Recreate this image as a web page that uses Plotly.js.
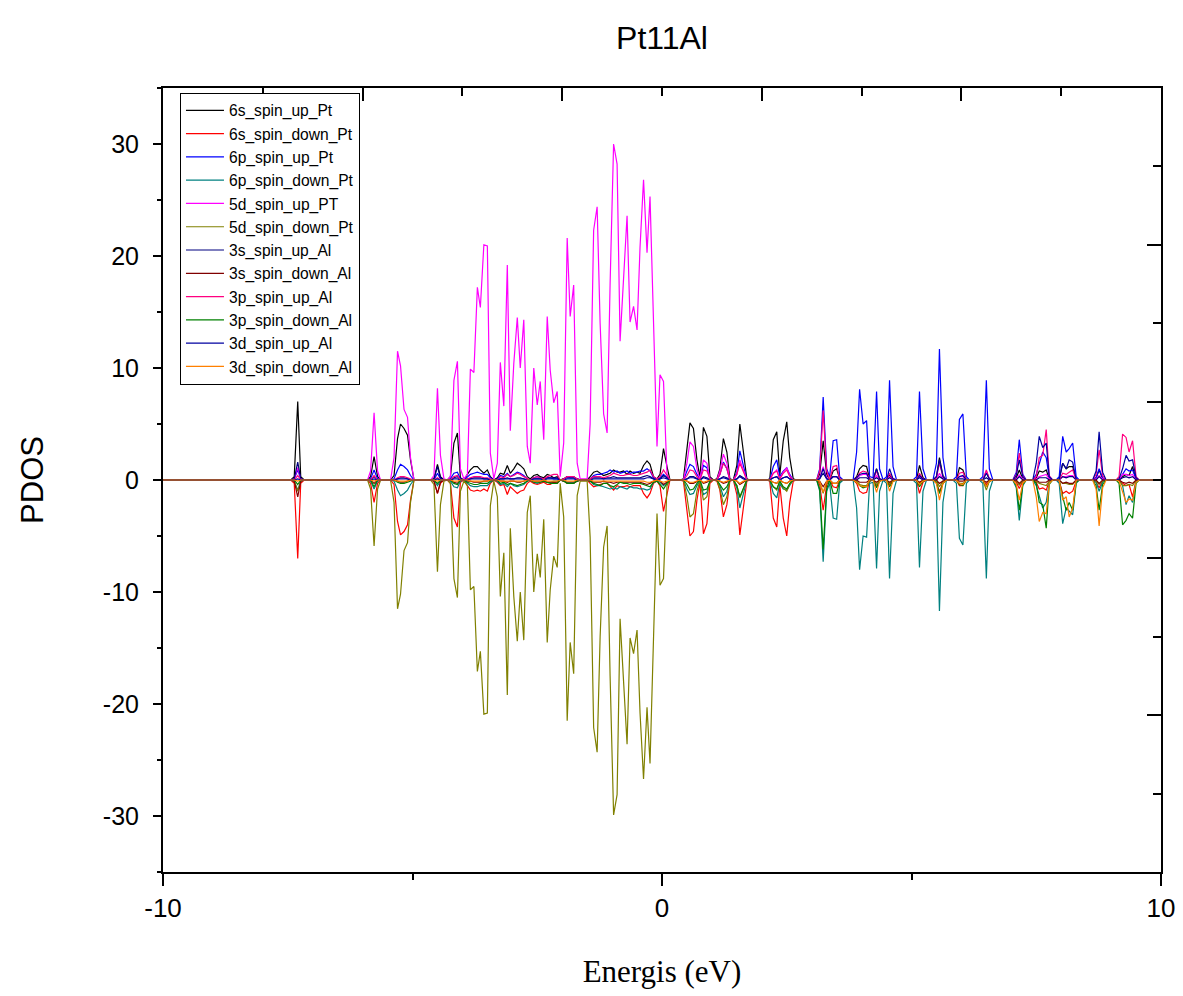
<!DOCTYPE html>
<html>
<head>
<meta charset="utf-8">
<script src="https://cdn.plot.ly/plotly-3.0.1.min.js"></script>
<style>html,body{margin:0;padding:0;background:#fff;}#chart{width:1183px;height:996px;}</style>
</head>
<body>
<div id="chart"></div>
<script>
// Energy grid (eV): only the stretches where the PDOS is non-zero, plus the ends of the axis
const energy = [
 -10,
 -7.44,-7.37,-7.30,-7.24,-7.17,
 -5.90,-5.84,-5.77,-5.70,-5.64,
 -5.44,-5.37,-5.30,-5.24,-5.17,-5.10,-5.04,-4.97,
 -4.64,-4.57,-4.50,-4.44,-4.37,-4.30,-4.24,-4.17,-4.10,-4.04,
 -3.97,-3.90,-3.84,-3.77,-3.70,-3.64,-3.57,-3.50,-3.44,-3.37,
 -3.30,-3.24,-3.17,-3.10,-3.04,-2.97,-2.90,-2.84,-2.77,-2.70,
 -2.64,-2.57,-2.50,-2.44,-2.37,-2.30,-2.24,-2.17,-2.10,-2.04,
 -1.97,-1.90,-1.84,-1.77,-1.70,-1.64,-1.57,-1.50,-1.44,-1.37,
 -1.30,-1.24,-1.17,-1.10,-1.04,-0.97,-0.90,-0.84,-0.77,-0.70,
 -0.64,-0.57,-0.50,-0.44,-0.37,-0.30,-0.24,-0.17,-0.10,-0.04,
 0.03,0.10,0.16,0.23,
 0.36,0.43,0.50,0.56,0.63,0.70,0.76,0.83,0.90,0.96,
 1.03,1.10,1.16,1.23,1.30,1.36,1.43,1.50,1.56,1.63,
 1.70,1.76,
 2.10,2.16,2.23,2.30,2.36,2.43,2.50,2.56,2.63,2.70,
 3.10,3.16,3.23,3.30,3.36,3.43,3.50,3.56,3.63,
 3.83,3.90,3.96,4.03,4.10,4.16,4.23,4.30,4.36,4.43,
 4.50,4.56,4.63,4.70,
 5.03,5.10,5.16,5.23,5.30,5.36,5.43,5.50,5.56,5.63,
 5.70,5.76,5.83,5.90,5.96,6.03,6.10,6.16,6.23,6.30,
 6.36,6.43,6.50,6.56,6.63,
 7.03,7.10,7.16,7.23,7.30,7.36,7.43,7.50,7.56,7.63,
 7.70,7.76,7.83,7.90,7.96,8.03,8.10,8.16,8.23,8.30,
 8.36,8.43,8.50,8.56,8.63,8.70,8.76,8.83,8.90,8.96,
 9.03,9.10,9.16,9.23,9.30,9.36,9.43,9.50,9.56,
 10
];

const s6_up_Pt = [
 0,
 0,0.3,7.0,0.3,0,
 0,0.3,2.1,0.3,0,
 0,0.4,3.7,5.0,4.6,4.0,1.8,0,
 0,0.1,1.4,0.3,0,0,0.3,3.3,4.2,0.2,
 0,0.5,0.9,1.2,1.2,0.9,0.6,0.9,0.3,0,
 0.2,0.6,0.5,1.3,0.6,1.0,1.5,1.3,1.0,0.3,
 0.1,0.4,0.5,0.3,0.2,0.5,0.4,0.2,0.3,0,
 0.1,0.3,0.2,0.2,0.1,0,0,0,0.3,0.7,
 0.8,0.6,0.4,0.5,0.6,0.9,0.7,0.7,0.8,0.5,
 0.8,0.6,0.7,0.6,1.3,1.7,1.4,0.3,0.1,0.5,
 2.8,1.2,0,0,
 0,0.1,2.8,5.1,4.6,1.8,0.2,4.7,3.9,0.3,
 0,0.1,1.0,3.7,2.5,0.1,0,1.3,5.0,2.5,
 0.1,0,
 0,0.1,3.6,4.3,0.4,3.5,5.2,2.0,0.1,0,
 0,0.5,3.5,0.5,0,0.8,1.0,0.1,0,
 0,0.3,1.0,1.3,1.2,0.1,0,1.0,0.1,0,
 0,0.4,0.1,0,
 0,0,1.3,0.2,0,0,0,0.3,2.0,0.4,
 0,0,0,0,1.1,0.9,0,0,0,0,
 0,0,0.7,0.1,0,
 0,0.2,0.9,0.1,0,0,0,0.2,0.8,0.7,
 0.9,0.1,0,0,0.1,1.5,1.0,1.2,1.2,0.1,
 0,0,0,0,0,0.2,0.9,0.1,0,0,
 0,0,0,0.3,0.5,0.4,1.2,0,0,
 0
];

const s6_down_Pt = [
 0,
 0,-0.3,-7.0,-0.3,0,
 0,-0.3,-2.0,-0.3,0,
 0,-0.4,-3.7,-4.9,-4.6,-4.0,-1.8,0,
 0,-0.1,-1.2,-0.3,0,0,-0.3,-3.4,-4.2,-0.2,
 0,-0.5,-0.9,-1.0,-0.9,-1.0,-0.8,-1.0,-0.3,0,
 -0.2,-0.5,-0.4,-1.3,-0.6,-0.9,-1.2,-1.0,-0.9,-0.3,
 -0.1,-0.3,-0.4,-0.3,-0.2,-0.4,-0.4,-0.2,-0.3,0,
 -0.1,-0.2,-0.2,-0.2,-0.1,0,0,0,-0.3,-0.6,
 -0.5,-0.4,-0.3,-0.3,-0.6,-0.9,-0.5,-0.6,-0.6,-0.5,
 -0.6,-0.5,-0.5,-0.5,-1.2,-1.6,-1.2,-0.3,-0.1,-0.5,
 -2.8,-1.2,0,0,
 0,-0.1,-2.8,-5.0,-4.6,-1.8,-0.2,-4.8,-3.9,-0.3,
 0,-0.1,-0.9,-3.3,-2.2,-0.1,0,-1.3,-4.9,-2.4,
 -0.1,0,
 0,-0.1,-3.4,-4.2,-0.4,-3.4,-5.0,-2.0,-0.1,0,
 0,-0.4,-2.7,-0.4,0,-0.6,-0.7,-0.1,0,
 0,-0.3,-1.0,-1.2,-1.1,-0.1,0,-0.6,-0.1,0,
 0,-0.4,-0.1,0,
 0,0,-1.2,-0.2,0,0,0,-0.3,-1.0,-0.3,
 0,0,0,0,-0.5,-0.5,0,0,0,0,
 0,0,-0.4,-0.1,0,
 0,-0.2,-0.75,-0.1,0,0,0,-0.2,-0.8,-0.7,
 -0.9,-0.1,0,0,-0.1,-1.2,-1.0,-1.2,-1.0,-0.1,
 0,0,0,0,0,-0.2,-0.7,-0.1,0,0,
 0,0,0,-0.3,-0.5,-0.4,-1.5,0,0,
 0
];

const p6_up_Pt = [
 0,
 0,0.1,0.9,0.1,0,
 0,0.1,0.9,0.1,0,
 0,0.1,0.9,1.4,1.2,0.9,0.4,0,
 0,0,0.6,0.1,0,0,0.1,0.6,0.7,0.1,
 0,0.3,0.5,0.6,0.7,0.6,0.5,0.5,0.2,0,
 0.1,0.4,0.3,0.6,0.3,0.5,0.7,0.6,0.4,0.1,
 0,0.2,0.3,0.2,0.1,0.2,0.2,0.1,0.1,0,
 0.1,0.2,0.2,0.2,0.1,0,0,0,0.1,0.4,
 0.5,0.5,0.6,0.7,0.9,0.7,0.8,0.6,0.7,0.8,
 0.6,0.7,0.7,0.8,0.8,1.0,0.8,0.2,0.1,0.2,
 0.5,0.2,0,0,
 0,0,0.8,1.4,1.2,0.5,0.1,1.3,1.1,0.1,
 0,0,0.5,1.6,1.0,0,0,0.7,2.6,1.2,
 0,0,
 0,0,1.2,1.8,0.3,0.8,1.1,0.5,0,0,
 0,1.0,7.4,1.0,0.3,3.5,3.6,0.3,0,
 0,2.5,8.1,5.0,5.3,0.3,0.2,7.9,1.0,0,
 0.3,8.9,1.2,0,
 0,0.3,7.9,1.0,0,0,0,1.5,11.7,2.0,
 0,0,0,0.3,5.4,5.9,0.3,0,0,0,
 0,0.3,8.9,1.0,0,
 0,0.7,3.6,0.5,0,0,0,0.5,1.5,2.5,
 2.0,0.2,0,0,0.3,3.9,2.5,2.8,3.3,0.3,
 0,0,0,0,0,0.2,1.0,0.2,0,0,
 0,0,0,0.5,1.0,0.8,0.9,0.1,0,
 0
];

const p6_down_Pt = [
 0,
 0,-0.1,-0.9,-0.1,0,
 0,-0.1,-0.8,-0.1,0,
 0,-0.1,-0.9,-1.4,-1.2,-0.9,-0.4,0,
 0,0,-0.5,-0.1,0,0,-0.1,-0.6,-0.7,-0.1,
 0,-0.3,-0.5,-0.6,-0.6,-0.5,-0.5,-0.5,-0.2,0,
 -0.1,-0.4,-0.3,-0.6,-0.3,-0.5,-0.6,-0.5,-0.4,-0.1,
 0,-0.2,-0.3,-0.2,-0.1,-0.2,-0.2,-0.1,-0.1,0,
 -0.1,-0.2,-0.2,-0.2,-0.1,0,0,0,-0.1,-0.4,
 -0.5,-0.5,-0.6,-0.7,-0.8,-0.7,-0.8,-0.6,-0.7,-0.8,
 -0.6,-0.7,-0.7,-0.8,-0.8,-0.9,-0.8,-0.2,-0.1,-0.2,
 -0.5,-0.2,0,0,
 0,0,-0.8,-1.3,-1.2,-0.5,-0.1,-1.3,-1.1,-0.1,
 0,0,-0.5,-1.5,-1.0,0,0,-0.7,-2.5,-1.2,
 0,0,
 0,0,-1.2,-1.6,-0.3,-0.8,-0.9,-0.5,0,0,
 0,-1.0,-7.3,-1.0,-0.3,-3.4,-3.5,-0.3,0,
 0,-2.5,-8.0,-5.0,-5.1,-0.3,-0.2,-7.9,-1.0,0,
 -0.3,-8.8,-1.2,0,
 0,-0.3,-7.8,-1.0,0,0,0,-1.5,-11.7,-2.0,
 0,0,0,-0.3,-5.2,-5.8,-0.3,0,0,0,
 0,-0.3,-8.8,-1.0,0,
 0,-0.7,-3.6,-0.5,0,0,0,-0.5,-1.5,-2.5,
 -2.0,-0.2,0,0,-0.3,-3.9,-2.5,-2.8,-3.1,-0.3,
 0,0,0,0,0,-0.2,-1.0,-0.2,0,0,
 0,0,0,-0.5,-2.2,-1.4,-2.0,-0.1,0,
 0
];

const d5_up_Pt = [
 0,
 0,0.1,1.1,0.1,0,
 0,0.8,6.0,0.8,0,
 0,2.0,11.5,10.2,6.3,5.6,2.0,0,
 0,0.4,8.2,2.2,0.1,0,0.3,8.9,10.6,1.0,
 0.1,0.5,9.9,9.6,17.2,15.4,21.0,20.9,2.4,0.1,
 1.5,10.5,6.6,19.2,4.4,10.4,14.5,10.0,14.3,3.0,
 1.5,10.0,6.7,8.8,3.6,14.6,9.8,6.9,7.9,0.3,
 3.3,21.6,14.6,17.4,1.5,0.1,0.1,0.1,5.0,22.3,
 24.4,14.0,5.9,4.2,17.5,30.0,28.2,12.4,18.0,23.6,
 14.1,15.5,13.4,20.8,26.8,20.3,25.3,15.1,3.0,9.4,
 8.8,0.5,0,0,
 0,0,1.5,3.4,3.0,1.0,0.1,1.8,1.5,0.1,
 0,0,0.8,2.3,1.5,0,0,0.5,1.8,0.8,
 0,0,
 0,0,0.6,0.9,0.1,0.7,1.1,0.4,0,0,
 0,0.2,1.2,0.2,0,0.3,0.3,0,0,
 0,0.1,0.4,0.5,0.5,0,0,0.4,0,0,
 0,0.3,0,0,
 0,0,0.3,0,0,0,0,0,0.6,0.1,
 0,0,0,0,0.3,0.3,0,0,0,0,
 0,0,0.8,0.1,0,
 0,0.1,0.45,0.1,0,0,0,0.1,0.3,0.4,
 0.5,0.1,0,0,0,0.3,0.3,0.4,0.4,0,
 0,0,0,0,0,0.1,0.4,0.1,0,0,
 0,0,0,0.5,0.5,0.4,0.5,0,0,
 0
];

const d5_down_Pt = [
 0,
 0,-0.1,-1.0,-0.1,0,
 0,-0.8,-5.9,-0.8,0,
 0,-2.0,-11.5,-10.2,-6.3,-5.6,-2.0,0,
 0,-0.4,-8.2,-2.2,-0.1,0,-0.3,-8.8,-10.5,-1.0,
 -0.1,-0.5,-9.8,-9.5,-17.1,-15.3,-20.9,-20.8,-2.3,-0.1,
 -1.5,-10.4,-6.5,-19.2,-4.3,-10.4,-14.4,-10.0,-14.3,-2.9,
 -1.4,-10.0,-6.6,-8.7,-3.5,-14.5,-9.8,-6.8,-7.8,-0.3,
 -3.3,-21.5,-14.5,-17.3,-1.4,-0.1,-0.1,-0.1,-5.1,-22.1,
 -24.3,-14.0,-6.0,-4.1,-17.5,-29.9,-28.1,-12.4,-18.0,-23.6,
 -14.1,-15.5,-13.4,-20.8,-26.7,-20.3,-25.3,-15.1,-3.0,-9.4,
 -8.8,-0.5,0,0,
 0,0,-1.5,-3.3,-3.0,-1.0,-0.1,-1.8,-1.5,-0.1,
 0,0,-0.8,-2.2,-1.5,0,0,-0.5,-1.6,-0.8,
 0,0,
 0,0,-0.6,-0.9,-0.1,-0.7,-1.0,-0.4,0,0,
 0,-0.2,-1.2,-0.2,0,-0.3,-0.3,0,0,
 0,-0.1,-0.4,-0.5,-0.5,0,0,-0.4,0,0,
 0,-0.3,0,0,
 0,0,-0.3,0,0,0,0,0,-0.6,-0.1,
 0,0,0,0,-0.3,-0.3,0,0,0,0,
 0,0,-0.9,-0.1,0,
 0,-0.1,-0.45,-0.1,0,0,0,-0.1,-0.3,-0.4,
 -0.5,-0.1,0,0,0,-0.3,-0.3,-0.4,-0.4,0,
 0,0,0,0,0,-0.1,-0.4,-0.1,0,0,
 0,0,0,-0.5,-0.5,-0.4,-0.5,0,0,
 0
];

const s3_up_Al = [
 0,
 0,0.1,1.6,0.1,0,
 0,0,0.3,0,0,
 0,0,0.1,0.2,0.2,0.1,0,0,
 0,0.1,1.2,0.2,0,0,0,0.2,0.3,0,
 0,0.1,0.1,0.2,0.2,0.2,0.1,0.1,0,0,
 0,0.1,0.1,0.2,0.1,0.1,0.2,0.2,0.1,0,
 0,0.1,0.1,0.1,0.1,0.2,0.2,0.2,0.2,0,
 0.1,0.3,0.3,0.3,0.1,0,0,0,0.1,0.2,
 0.2,0.2,0.1,0.2,0.2,0.3,0.2,0.2,0.2,0.2,
 0.2,0.2,0.2,0.2,0.3,0.4,0.3,0.1,0,0.1,
 0.4,0.2,0,0,
 0,0,0.1,0.3,0.3,0.1,0,0.3,0.2,0,
 0,0,0.1,0.3,0.2,0,0,0.1,0.4,0.2,
 0,0,
 0,0,0.2,0.3,0,0.2,0.3,0.1,0,0,
 0,0.1,0.6,0.1,0,0.3,0.3,0,0,
 0,0,0.2,0.2,0.2,0,0,0.2,0,0,
 0,0.2,0,0,
 0,0,0.2,0,0,0,0,0,0.3,0.1,
 0,0,0,0,0.1,0.1,0,0,0,0,
 0,0,0.2,0,0,
 0,0,0.3,0,0,0,0,0,0.2,0.2,
 0.2,0,0,0,0,0.3,0.2,0.3,0.3,0,
 0,0,0,0,0,0,0.3,0,0,0,
 0,0,0,0.2,0.3,0.2,0.3,0,0,
 0
];

const s3_down_Al = [
 0,
 0,-0.1,-1.5,-0.1,0,
 0,0,-0.3,0,0,
 0,0,-0.1,-0.2,-0.2,-0.1,0,0,
 0,-0.1,-1.2,-0.2,0,0,0,-0.2,-0.3,0,
 0,-0.1,-0.1,-0.2,-0.2,-0.2,-0.1,-0.1,0,0,
 0,-0.1,-0.1,-0.2,-0.1,-0.1,-0.2,-0.2,-0.1,0,
 0,-0.1,-0.1,-0.1,-0.1,-0.2,-0.2,-0.2,-0.2,0,
 -0.1,-0.3,-0.3,-0.3,-0.1,0,0,0,-0.1,-0.2,
 -0.2,-0.2,-0.1,-0.2,-0.2,-0.3,-0.2,-0.2,-0.2,-0.2,
 -0.2,-0.2,-0.2,-0.2,-0.3,-0.4,-0.3,-0.1,0,-0.1,
 -0.4,-0.2,0,0,
 0,0,-0.1,-0.3,-0.3,-0.1,0,-0.3,-0.2,0,
 0,0,-0.1,-0.3,-0.2,0,0,-0.1,-0.4,-0.2,
 0,0,
 0,0,-0.2,-0.3,0,-0.2,-0.3,-0.1,0,0,
 0,-0.1,-0.6,-0.1,0,-0.3,-0.3,0,0,
 0,0,-0.2,-0.2,-0.2,0,0,-0.2,0,0,
 0,-0.2,0,0,
 0,0,-0.2,0,0,0,0,0,-0.3,-0.1,
 0,0,0,0,-0.1,-0.1,0,0,0,0,
 0,0,-0.2,0,0,
 0,0,-0.3,0,0,0,0,0,-0.2,-0.2,
 -0.2,0,0,0,0,-0.3,-0.2,-0.3,-0.3,0,
 0,0,0,0,0,0,-0.3,0,0,0,
 0,0,0,-0.2,-0.3,-0.2,-0.3,0,0,
 0
];

const p3_up_Al = [
 0,
 0,0,0.4,0,0,
 0,0,0.4,0,0,
 0,0,0.2,0.3,0.3,0.2,0.1,0,
 0,0,0.2,0,0,0,0,0.3,0.4,0,
 0,0.1,0.2,0.3,0.3,0.3,0.2,0.2,0.1,0,
 0,0.3,0.2,0.5,0.3,0.4,0.6,0.5,0.3,0.1,
 0,0.2,0.3,0.2,0.1,0.3,0.4,0.5,0.5,0,
 0.1,0.3,0.3,0.3,0.1,0,0,0,0.1,0.3,
 0.3,0.3,0.2,0.3,0.4,0.6,0.5,0.4,0.4,0.5,
 0.5,0.4,0.4,0.5,0.6,0.7,0.9,0.3,0.1,0.3,
 0.9,0.4,0,0,
 0,0,0.4,0.9,0.8,0.3,0,0.9,0.8,0.1,
 0,0,0.5,1.5,1.0,0,0,0.5,1.5,0.7,
 0,0,
 0,0,0.6,0.8,0.1,0.6,0.9,0.3,0,0,
 0,0.8,6.2,0.8,0,1.2,1.3,0.1,0,
 0,0.2,0.6,0.8,0.7,0.1,0,0.8,0.1,0,
 0,0.6,0.1,0,
 0,0,0.6,0.1,0,0,0,0.2,1.5,0.3,
 0,0,0,0,0.6,0.7,0,0,0,0,
 0,0,0.9,0.1,0,
 0,0.5,2.4,0.4,0,0,0,0.3,2.0,2.2,
 4.5,0.4,0,0,0,0.6,0.5,0.7,0.9,0,
 0,0,0,0,0,0.5,2.7,0.4,0,0,
 0,0,0.3,4.1,3.8,2.5,3.5,0.3,0,
 0
];

const p3_down_Al = [
 0,
 0,0,-0.4,0,0,
 0,0,-0.6,0,0,
 0,0,-0.2,-0.3,-0.3,-0.2,-0.1,0,
 0,0,-0.3,0,0,0,0,-0.3,-0.4,0,
 0,-0.2,-0.3,-0.4,-0.4,-0.3,-0.3,-0.3,-0.1,0,
 0,-0.3,-0.2,-0.4,-0.3,-0.4,-0.5,-0.4,-0.3,-0.1,
 0,-0.2,-0.2,-0.2,-0.1,-0.2,-0.3,-0.3,-0.3,0,
 -0.1,-0.3,-0.3,-0.3,-0.1,0,0,0,-0.1,-0.3,
 -0.4,-0.5,-0.3,-0.3,-0.5,-0.6,-0.4,-0.2,-0.3,-0.3,
 -0.4,-0.3,-0.3,-0.3,-0.4,-0.5,-0.6,-0.2,-0.1,-0.4,
 -0.8,-0.3,0,0,
 0,0,-0.4,-0.9,-0.8,-0.3,0,-0.9,-0.8,-0.1,
 0,0,-0.4,-0.9,-0.6,0,0,-0.5,-1.5,-0.7,
 0,0,
 0,0,-0.6,-0.8,-0.1,-0.6,-0.8,-0.3,0,0,
 0,-0.8,-6.2,-0.8,0,-1.2,-1.2,-0.1,0,
 0,-0.2,-0.5,-0.7,-0.6,-0.1,0,-0.7,-0.1,0,
 0,-0.6,-0.1,0,
 0,0,-0.6,-0.1,0,0,0,-0.2,-1.2,-0.3,
 0,0,0,0,-0.4,-0.5,0,0,0,0,
 0,0,-0.6,-0.1,0,
 0,-0.5,-2.7,-0.4,0,0,0,-0.3,-2.0,-2.2,
 -4.3,-0.4,0,0,0,-1.5,-2.7,-2.0,-2.7,-0.2,
 0,0,0,0,0,-0.5,-2.7,-0.4,0,0,
 0,0,-0.3,-4.0,-3.6,-3.0,-3.4,-0.3,0,
 0
];

const d3_up_Al = [
 0,
 0,0,0.1,0,0,
 0,0,0.1,0,0,
 0,0,0.1,0.1,0.1,0.1,0,0,
 0,0,0.1,0,0,0,0,0.1,0.1,0,
 0,0,0.1,0.1,0.1,0.1,0.1,0.1,0,0,
 0,0.1,0.1,0.1,0.1,0.1,0.1,0.1,0.1,0,
 0,0.1,0.1,0.1,0,0.1,0.1,0.1,0.1,0,
 0,0.1,0.1,0.1,0,0,0,0,0,0.1,
 0.1,0.1,0.1,0.1,0.1,0.1,0.1,0.1,0.1,0.1,
 0.1,0.1,0.1,0.1,0.1,0.2,0.2,0.1,0,0.1,
 0.2,0.1,0,0,
 0,0,0.1,0.2,0.2,0.1,0,0.2,0.1,0,
 0,0,0.1,0.2,0.1,0,0,0.1,0.3,0.1,
 0,0,
 0,0,0.2,0.3,0,0.2,0.3,0.1,0,0,
 0,0.1,1.0,0.1,0,0.3,0.3,0,0,
 0,0.2,0.5,0.6,0.6,0,0,1.0,0.1,0,
 0,1.0,0.1,0,
 0,0,0.4,0.1,0,0,0,0.3,1.8,0.3,
 0,0,0,0,0.3,0.4,0,0,0,0,
 0,0,0.6,0.1,0,
 0,0.4,1.8,0.3,0,0,0,1.5,3.9,2.9,
 3.3,0.3,0,0,0,1.5,1.0,1.8,1.6,0,
 0,0,0,0,0,0.8,4.3,0.7,0,0,
 0,0,0.1,1.0,2.2,1.7,1.8,0.2,0,
 0
];

const d3_down_Al = [
 0,
 0,0,-0.1,0,0,
 0,0,-0.1,0,0,
 0,0,-0.1,-0.1,-0.1,-0.1,0,0,
 0,0,-0.1,0,0,0,0,-0.1,-0.1,0,
 0,0,-0.1,-0.1,-0.1,-0.1,-0.1,-0.1,0,0,
 0,-0.1,-0.1,-0.1,-0.1,-0.1,-0.1,-0.1,-0.1,0,
 0,-0.1,-0.1,-0.1,0,-0.1,-0.1,-0.1,-0.1,0,
 0,-0.1,-0.1,-0.1,0,0,0,0,0,-0.1,
 -0.1,-0.1,-0.1,-0.1,-0.1,-0.1,-0.1,-0.1,-0.1,-0.1,
 -0.1,-0.1,-0.1,-0.1,-0.1,-0.2,-0.2,-0.1,0,-0.1,
 -0.2,-0.1,0,0,
 0,0,-0.1,-0.2,-0.2,-0.1,0,-0.2,-0.1,0,
 0,0,-0.1,-0.2,-0.1,0,0,-0.1,-0.3,-0.1,
 0,0,
 0,0,-0.2,-0.3,0,-0.2,-0.3,-0.1,0,0,
 0,-0.1,-1.1,-0.1,0,-0.3,-0.3,0,0,
 0,-0.2,-0.5,-0.6,-0.6,0,0,-1.1,-0.1,0,
 0,-1.0,-0.1,0,
 0,0,-0.4,-0.1,0,0,0,-0.3,-1.8,-0.3,
 0,0,0,0,-0.3,-0.4,0,0,0,0,
 0,0,-0.6,-0.1,0,
 0,-0.4,-1.8,-0.3,0,0,0,-1.5,-3.7,-2.9,
 -3.0,-0.3,0,0,0,-1.8,-1.5,-3.3,-2.5,0,
 0,0,0,0,0,-0.8,-4.1,-0.7,0,0,
 0,0,-0.1,-1.0,-2.0,-1.7,-1.8,-0.2,0,
 0
];

const seriesNames = ['6s_spin_up_Pt','6s_spin_down_Pt','6p_spin_up_Pt','6p_spin_down_Pt','5d_spin_up_PT','5d_spin_down_Pt',
  '3s_spin_up_Al','3s_spin_down_Al','3p_spin_up_Al','3p_spin_down_Al','3d_spin_up_Al','3d_spin_down_Al'];
const seriesValues = [s6_up_Pt,s6_down_Pt,p6_up_Pt,p6_down_Pt,d5_up_Pt,d5_down_Pt,s3_up_Al,s3_down_Al,p3_up_Al,p3_down_Al,d3_up_Al,d3_down_Al];
const seriesColors = ['#000000','#FF0000','#0000FF','#008080','#FF00FF','#808000','#000080','#800000','#FF0080','#008000','#0000A0','#FF8000'];

const xTickVals = [-10, 0, 10];
const xTickText = ['-10', '0', '10'];
const yTickVals = [-30, -20, -10, 0, 10, 20, 30];
const yTickText = ['-30', '-20', '-10', '0', '10', '20', '30'];

seriesValues.forEach((v,i)=>{ if (v.length !== energy.length) throw new Error(seriesNames[i]+' length '+v.length+' vs '+energy.length); });

const traces = seriesValues.map((v,i)=>({
  x: energy, y: v, name: seriesNames[i], type: 'scatter', mode: 'lines',
  line: {color: seriesColors[i], width: 1.2}
}));
// invisible trace to hold the top / right mirrored tick axes
traces.push({x:[-10,10], y:[0,0], xaxis:'x2', yaxis:'y2', mode:'lines', line:{width:0}, showlegend:false, hoverinfo:'skip'});

const layout = {
  width: 1183, height: 996,
  margin: {l:163, r:22, t:88, b:124},
  paper_bgcolor: '#fff', plot_bgcolor: '#fff',
  title: {text: 'Pt11Al', x: 0.5, xref: 'paper', y: 0.962, yref: 'container', yanchor: 'middle',
          font: {family: 'Liberation Sans, Arial, sans-serif', size: 32, color: '#000'}},
  font: {family: 'Liberation Sans, Arial, sans-serif', color: '#000'},
  showlegend: true,
  legend: {x: 0.017, y: 0.994, xanchor: 'left', yanchor: 'top', bgcolor: '#fff', bordercolor: '#000', borderwidth: 1,
           itemwidth: 38,
           font: {family: 'Liberation Sans, Arial, sans-serif', size: 15.6, color: '#000'}, tracegroupgap: 0},
  xaxis: {range: [-10, 10], showgrid: false, zeroline: false, showline: true, linecolor: '#000', linewidth: 2,
          tickmode: 'array', tickvals: xTickVals, ticktext: xTickText,
          ticks: 'outside', ticklen: 12, tickwidth: 2, tickcolor: '#000',
          minor: {tickmode: 'linear', tick0: -10, dtick: 5, ticks: 'outside', ticklen: 6, tickwidth: 2, tickcolor: '#000', showgrid: false},
          tickfont: {family: 'Liberation Sans Narrow, Liberation Sans, Arial, sans-serif', size: 26},
          title: {text: 'Energis (eV)', standoff: 38, font: {family: 'Liberation Serif, Times New Roman, serif', size: 31}}},
  yaxis: {range: [-35, 35], showgrid: false, zeroline: false, showline: true, linecolor: '#000', linewidth: 2,
          tickmode: 'array', tickvals: yTickVals, ticktext: yTickText,
          ticks: 'outside', ticklen: 8, tickwidth: 2, tickcolor: '#000', ticklabelstandoff: 9,
          minor: {tickmode: 'linear', tick0: 0, dtick: 5, ticks: 'outside', ticklen: 4, tickwidth: 2, tickcolor: '#000', showgrid: false},
          tickfont: {family: 'Liberation Sans, Arial, sans-serif', size: 25},
          title: {text: 'PDOS', standoff: 50, font: {family: 'Liberation Sans, Arial, sans-serif', size: 31}}},
  xaxis2: {overlaying: 'x', side: 'top', range: [-10, 10], showgrid: false, zeroline: false, showline: true,
           linecolor: '#000', linewidth: 2, showticklabels: false, ticks: 'inside', tick0: -10, dtick: 4,
           ticklen: 13, tickwidth: 2, tickcolor: '#000',
           minor: {dtick: 2, ticks: 'inside', ticklen: 8, tickwidth: 2, tickcolor: '#000', showgrid: false}},
  yaxis2: {overlaying: 'y', side: 'right', range: [-35, 35], showgrid: false, zeroline: false, showline: true,
           linecolor: '#000', linewidth: 2, showticklabels: false, ticks: 'inside', tick0: 7, dtick: 14,
           ticklen: 14, tickwidth: 2, tickcolor: '#000',
           minor: {dtick: 7, ticks: 'inside', ticklen: 8, tickwidth: 2, tickcolor: '#000', showgrid: false}}
};

Plotly.newPlot('chart', traces, layout, {displayModeBar: false, staticPlot: true});
</script>
</body>
</html>
